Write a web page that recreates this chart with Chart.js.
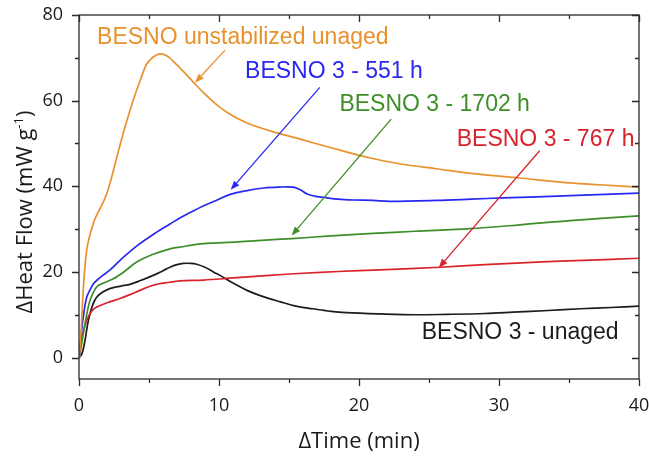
<!DOCTYPE html>
<html>
<head>
<meta charset="utf-8">
<script src="https://cdn.jsdelivr.net/npm/chart.js@4/dist/chart.umd.min.js"></script>
<style>
html,body{margin:0;padding:0;background:#fff;}
#wrap{width:649px;height:456px;position:relative;}
</style>
</head>
<body>
<div id="wrap"><canvas id="c" width="649" height="456"></canvas></div>
<script>
// ---- data ----
const seriesNames = ['BESNO unstabilized unaged','BESNO 3 - 551 h','BESNO 3 - 1702 h','BESNO 3 - 767 h','BESNO 3 - unaged'];

const timeOrange = [0.03,0.15,0.26,0.42,0.63,1.07,1.5,1.8,2.1,2.4,2.7,3.3,3.86,4.4,4.83,5.3,5.8,6.3,6.7,7.4,8.15,9.0,10.0,11.0,12.0,13.0,14.0,15.8,18.0,20.8,23.0,25.5,28.0,31.3,35.0,37.5,40.0];
const heatOrange = [0,6,13.4,21,26.6,31.8,34.8,36.8,39.4,43,46.8,54,60,65,68.5,70.2,70.9,70.4,69.3,67,64.4,61.5,58.6,56.4,54.8,53.6,52.6,51,49,46.6,45.2,44.1,43,42,40.8,40.3,39.8];

const timeBlue = [0.03,0.19,0.35,0.55,0.79,1.02,1.26,1.7,2.2,3.16,4.3,5.55,6.5,7.2,7.9,8.8,9.8,10.8,12.0,13.2,14.3,15.3,15.8,16.3,17.0,17.5,18.5,19.6,21.0,22.2,25.5,28.0,30.3,35.1,40.0];
const heatBlue = [0,6.4,10.5,14.1,15.8,17.2,18,19.2,20.4,23.4,26.5,29.3,31.2,32.6,33.8,35.3,36.7,38.1,39,39.6,39.8,39.8,39.2,38.2,37.6,37.4,37,36.8,36.7,36.5,36.7,37,37.3,37.8,38.4];

const timeGreen = [0.03,0.15,0.31,0.55,0.79,1.26,1.8,2.45,3.2,4.12,5.2,6.5,7.2,8.9,11.3,13.6,15.2,18.0,21.0,24.0,27.9,31.5,35.1,40.0];
const heatGreen = [0,2.5,5.6,10,13.4,16.5,17.5,18.4,20,22.3,24,25.4,25.8,26.6,27,27.5,27.8,28.4,29,29.5,30.1,31,32,33.1];

const timeRed = [0,0.07,0.3,0.55,0.9,1.26,2.0,2.93,4.0,5.3,6.5,7.2,8.9,11.0,13.6,16.0,18.5,21.5,25.8,29.0,32.7,36.0,40.0];
const heatRed = [0,2.5,6,8.7,10.8,11.8,12.8,13.8,15.2,16.9,17.6,17.9,18.1,18.6,19.2,19.7,20.1,20.5,21.1,21.7,22.3,22.7,23.2];

const timeBlack = [0,0.2,0.43,0.6,0.79,1.0,1.26,1.7,2.2,3.0,3.64,4.4,5.3,6.0,6.5,7.0,7.45,8.0,8.4,9.0,9.6,10.07,11.0,12.0,13.0,14.4,15.5,16.7,18.0,19.1,21.5,24.0,26.3,29.0,31.0,33.5,35.8,38.0,40.0];
const heatBlack = [0,0.8,4,7.5,10.3,12.5,14.1,15.3,16.1,16.7,17.1,18,19.2,20.3,21.1,21.7,22.0,22.0,21.8,21.1,20,19.2,17.4,15.7,14.4,13,12,11.4,10.8,10.5,10.2,10,10.1,10.3,10.6,11,11.4,11.7,12];

const xMajorTicks = [0,10,20,30,40];
const xMinorTicks = [5,15,25,35];
const yMajorTicks = [0,20,40,60,80];
const yMinorTicks = [10,30,50,70];

// ---- styling / annotations ----
const colors = ['#E8912D','#2828F2','#3E8E2A','#D8232B','#1C1C1C'];
const seriesTimes = [timeOrange,timeBlue,timeGreen,timeRed,timeBlack];
const seriesHeats = [heatOrange,heatBlue,heatGreen,heatRed,heatBlack];

// label anchor (data units, left / baseline) and arrow (start -> tip) in data units
const notes = [
  {i:0, lx:1.29, ly:73.3, ax:[10.43,71.8], at:[8.29,64.2]},
  {i:1, lx:11.86, ly:65.3, ax:[17.2,63.1], at:[10.84,39.2]},
  {i:2, lx:18.6, ly:57.5, ax:[22.3,55.7], at:[15.19,28.5]},
  {i:3, lx:26.98, ly:49.5, ax:[32.9,48.3], at:[25.7,21.0]},
  {i:4, lx:24.48, ly:4.27, ax:null, at:null}
];

const datasets = seriesNames.map((n,k)=>({
  label:n,
  data: seriesTimes[k].map((t,j)=>({x:t,y:seriesHeats[k][j]})),
  borderColor: colors[k],
  borderWidth: 1.7,
  pointRadius: 0,
  fill:false,
  tension:0.35
}));

const TICK_FONT = '"Open Sans", sans-serif';
const LABEL_FONT = '"Liberation Sans", Arial, sans-serif';

const overlay = {
  id:'overlay',
  afterDraw(chart){
    const ctx = chart.ctx, a = chart.chartArea, xs = chart.scales.x, ys = chart.scales.y;
    ctx.save();
    ctx.strokeStyle = '#2a2a2a';
    ctx.lineWidth = 1.3;
    ctx.strokeRect(a.left, a.top, a.right-a.left, a.bottom-a.top);
    const MAJ = 7, MIN = 4;
    ctx.beginPath();
    xMajorTicks.concat(xMinorTicks).forEach(v=>{
      const L = xMajorTicks.includes(v)?MAJ:MIN;
      const px = Math.round(xs.getPixelForValue(v))+0.5;
      ctx.moveTo(px, a.bottom); ctx.lineTo(px, a.bottom+L);
      ctx.moveTo(px, a.top); ctx.lineTo(px, a.top+L);
    });
    yMajorTicks.concat(yMinorTicks).forEach(v=>{
      const L = yMajorTicks.includes(v)?MAJ:MIN;
      const py = Math.round(ys.getPixelForValue(v))+0.5;
      ctx.moveTo(a.left, py); ctx.lineTo(a.left-L, py);
      ctx.moveTo(a.right, py); ctx.lineTo(a.right-L, py);
    });
    ctx.stroke();

    // annotations
    notes.forEach(n=>{
      const c = colors[n.i];
      ctx.fillStyle = c;
      ctx.font = '23px ' + LABEL_FONT;
      ctx.textAlign = 'left';
      ctx.textBaseline = 'alphabetic';
      ctx.fillText(seriesNames[n.i], xs.getPixelForValue(n.lx), ys.getPixelForValue(n.ly));
      if(n.ax){
        const x0 = xs.getPixelForValue(n.ax[0]), y0 = ys.getPixelForValue(n.ax[1]);
        const x1 = xs.getPixelForValue(n.at[0]), y1 = ys.getPixelForValue(n.at[1]);
        const ang = Math.atan2(y1-y0, x1-x0);
        const hl = 9, hw = 3.5;
        const bx = x1 - hl*Math.cos(ang), by = y1 - hl*Math.sin(ang);
        ctx.strokeStyle = c; ctx.lineWidth = 1.3;
        ctx.beginPath(); ctx.moveTo(x0,y0); ctx.lineTo(bx,by); ctx.stroke();
        ctx.beginPath();
        ctx.moveTo(x1,y1);
        ctx.lineTo(bx + hw*Math.sin(ang), by - hw*Math.cos(ang));
        ctx.lineTo(bx - hw*Math.sin(ang), by + hw*Math.cos(ang));
        ctx.closePath(); ctx.fill();
      }
    });

    // axis titles
    ctx.fillStyle = '#1a1a1a';
    ctx.font = '22px ' + TICK_FONT;
    ctx.textAlign = 'center';
    ctx.textBaseline = 'alphabetic';
    ctx.fillText('\u0394Time (min)', (a.left+a.right)/2, 448);

    ctx.translate(32, 212);
    ctx.rotate(-Math.PI/2);
    const main = '\u0394Heat Flow (mW g';
    const sup = '-1';
    const tail = ')';
    ctx.font = '22px ' + TICK_FONT;
    const w1 = ctx.measureText(main).width, w3 = ctx.measureText(tail).width;
    ctx.font = '13px ' + TICK_FONT;
    const w2 = ctx.measureText(sup).width;
    let sx = -(w1+w2+w3)/2;
    ctx.textAlign = 'left';
    ctx.font = '22px ' + TICK_FONT;
    ctx.fillText(main, sx, 0);
    ctx.font = '13px ' + TICK_FONT;
    ctx.fillText(sup, sx+w1, -9);
    ctx.font = '22px ' + TICK_FONT;
    ctx.fillText(tail, sx+w1+w2, 0);
    ctx.restore();
  }
};

new Chart(document.getElementById('c'), {
  type:'line',
  data:{datasets},
  options:{
    responsive:false,
    animation:false,
    layout:{padding:{top:15,right:10,left:0,bottom:0}},
    plugins:{legend:{display:false}, tooltip:{enabled:false}},
    scales:{
      x:{
        type:'linear', min:0, max:40,
        grid:{display:false}, border:{display:false},
        afterBuildTicks(s){ s.ticks = xMajorTicks.map(v=>({value:v})); },
        afterFit(s){ s.height = 77; s.paddingLeft = 0; s.paddingRight = 0; },
        ticks:{padding:8, color:'#1a1a1a', font:{family:TICK_FONT, size:18}, maxRotation:0}
      },
      y:{
        type:'linear', min:-5, max:80,
        grid:{display:false}, border:{display:false},
        afterBuildTicks(s){ s.ticks = yMajorTicks.map(v=>({value:v})); },
        afterFit(s){ s.width = 79; s.paddingTop = 0; s.paddingBottom = 0; },
        ticks:{padding:8, color:'#1a1a1a', font:{family:TICK_FONT, size:18}}
      }
    }
  },
  plugins:[overlay]
});
</script>
</body>
</html>
